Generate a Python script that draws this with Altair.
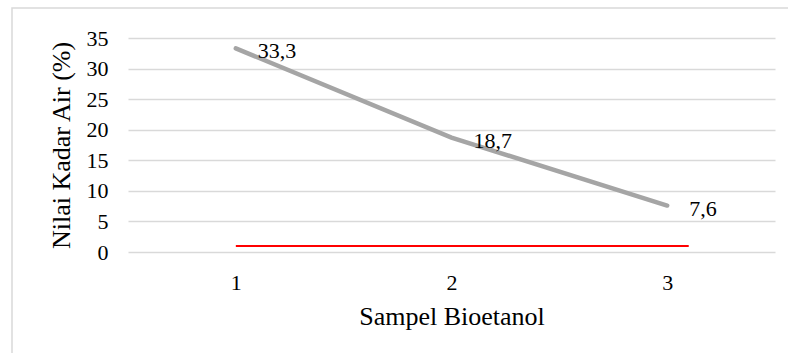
import altair as alt
import pandas as pd

samples = [1, 2, 3]
kadar_air = [33.3, 18.7, 7.6]
labels = ["33,3", "18,7", "7,6"]

limit_value = [1.0, 1.0]
limit_x = [1.0, 3.1]

y_ticks = [0, 5, 10, 15, 20, 25, 30, 35]

FONT = "Times New Roman, Liberation Serif, serif"

df = pd.DataFrame({"sampel": samples, "kadar": kadar_air, "label": labels})
limit_df = pd.DataFrame({"sampel": limit_x, "kadar": limit_value})

xscale = alt.Scale(domain=[0.5, 3.5], nice=False, zero=False)
yscale = alt.Scale(domain=[0, 35], nice=False)

x_axis = alt.Axis(
    values=samples, format="d", grid=False, domain=False, ticks=False,
    title="Sampel Bioetanol", labelFont=FONT, labelFontSize=22,
    labelColor="#000000", labelPadding=20, titleFont=FONT,
    titleFontSize=26, titleFontWeight="normal", titleColor="#000000",
    titlePadding=10,
)
y_axis = alt.Axis(
    values=y_ticks, grid=True, gridColor="#D9D9D9", gridWidth=1.5,
    domain=False, ticks=False, title="Nilai Kadar Air (%)",
    labelFont=FONT, labelFontSize=22, labelColor="#000000",
    labelPadding=20, labelOverlap=False, labelBound=False,
    titleFont=FONT, titleFontSize=26,
    titleFontWeight="normal", titleColor="#000000", titlePadding=12,
)

x_enc = alt.X("sampel:Q", scale=xscale, axis=x_axis)
y_enc = alt.Y("kadar:Q", scale=yscale, axis=y_axis)

frame = alt.Chart(pd.DataFrame({"a": [0]})).mark_rect(
    fill=None, stroke="#D9D9D9", strokeWidth=1.5
).encode(
    x=alt.value(-116), x2=alt.value(700), y=alt.value(-30), y2=alt.value(400)
)

line = alt.Chart(df).mark_line(color="#A5A5A5", strokeWidth=4.5, strokeCap="round").encode(
    x=x_enc, y=y_enc
)

limit = alt.Chart(limit_df).mark_line(color="#FF0000", strokeWidth=2).encode(
    x=x_enc, y=y_enc
)

text = alt.Chart(df).mark_text(
    align="left", baseline="middle", dx=22, dy=3, font=FONT, fontSize=22,
    color="#000000"
).encode(
    x=x_enc, y=y_enc, text="label:N"
)

chart = alt.layer(frame, line, limit, text).properties(
    width=647, height=214,
    background="white",
    autosize=alt.AutoSizeParams(type="none"),
    padding={"left": 128, "top": 38, "right": 13, "bottom": 101},
).configure_view(strokeWidth=0, stroke="transparent").configure_axisX(grid=False)

chart.save("out.html", embed_options={"renderer": "svg", "actions": False})
